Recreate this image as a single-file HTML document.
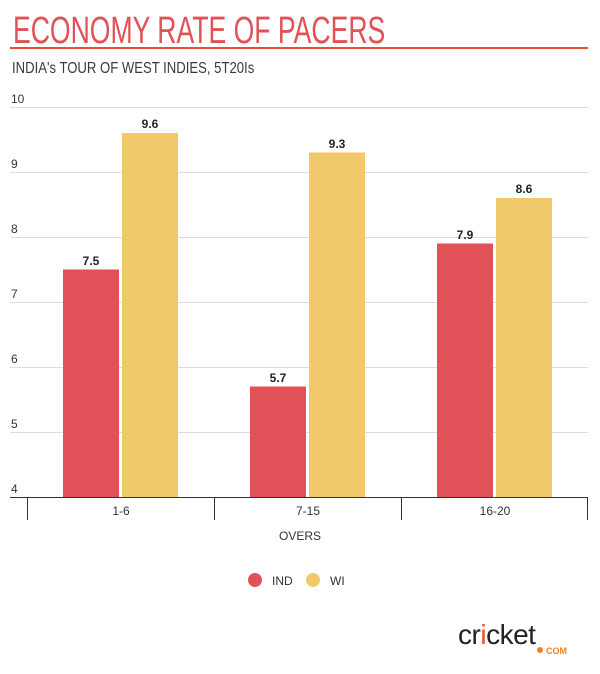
<!DOCTYPE html>
<html><head><meta charset="utf-8"><style>
body{margin:0;background:#fff;width:600px;height:669px;overflow:hidden;font-family:"Liberation Sans",sans-serif}
</style></head><body>
<svg width="600" height="669" xmlns="http://www.w3.org/2000/svg" font-family="Liberation Sans, sans-serif">
<text x="13" y="43" font-size="38" fill="#e05257" transform="translate(13,0) scale(0.70,1) translate(-13,0)">ECONOMY RATE OF PACERS</text>
<rect x="10" y="47" width="578" height="2" fill="#e8502a"/>
<text x="12" y="73" font-size="16" fill="#3a3a3a" transform="translate(12,0) scale(0.82,1) translate(-12,0)">INDIA's TOUR OF WEST INDIES, 5T20Is</text>
<g stroke="#ddd" stroke-width="1">
<line x1="10" x2="588" y1="107.5" y2="107.5"/><line x1="10" x2="588" y1="172.5" y2="172.5"/>
<line x1="10" x2="588" y1="237.5" y2="237.5"/><line x1="10" x2="588" y1="302.5" y2="302.5"/>
<line x1="10" x2="588" y1="367.5" y2="367.5"/><line x1="10" x2="588" y1="432.5" y2="432.5"/>
</g>
<g font-size="12" fill="#333">
<text x="11" y="103">10</text><text x="11" y="168">9</text><text x="11" y="233">8</text>
<text x="11" y="298">7</text><text x="11" y="363">6</text><text x="11" y="428">5</text><text x="11" y="493">4</text>
</g>
<g fill="#e05257">
<rect x="63" y="269.5" width="56" height="227.5"/><rect x="250" y="386.5" width="56" height="110.5"/><rect x="437" y="243.5" width="56" height="253.5"/>
</g>
<g fill="#f2c96a">
<rect x="122" y="133" width="56" height="364"/><rect x="309" y="152.5" width="56" height="344.5"/><rect x="496" y="198" width="56" height="299"/>
</g>
<g font-size="12" font-weight="bold" fill="#222" text-anchor="middle">
<text x="91" y="265">7.5</text><text x="150" y="128">9.6</text>
<text x="278" y="382">5.7</text><text x="337" y="148">9.3</text>
<text x="465" y="239">7.9</text><text x="524" y="193">8.6</text>
</g>
<g stroke="#333" stroke-width="1">
<line x1="10" x2="588" y1="497.5" y2="497.5"/>
<line x1="27.5" x2="27.5" y1="497" y2="520"/><line x1="214.5" x2="214.5" y1="497" y2="520"/>
<line x1="401.5" x2="401.5" y1="497" y2="520"/><line x1="587.5" x2="587.5" y1="497" y2="520"/>
</g>
<g font-size="12" fill="#333" text-anchor="middle">
<text x="121" y="515">1-6</text><text x="308" y="515">7-15</text><text x="495" y="515">16-20</text>
<text x="300" y="540">OVERS</text>
</g>
<circle cx="255" cy="580" r="7" fill="#e05257"/><text x="272" y="585" font-size="12" fill="#333">IND</text>
<circle cx="313" cy="580" r="7" fill="#f2c96a"/><text x="330" y="585" font-size="12" fill="#333">WI</text>
<text x="458" y="644" font-size="28" fill="#222" letter-spacing="-0.5">cr<tspan fill="#e8502a">i</tspan>cket</text>
<circle cx="540" cy="650" r="3" fill="#f07f23"/>
<text x="546" y="654" font-size="9" font-weight="bold" fill="#f07f23">COM</text>
</svg>
</body></html>
